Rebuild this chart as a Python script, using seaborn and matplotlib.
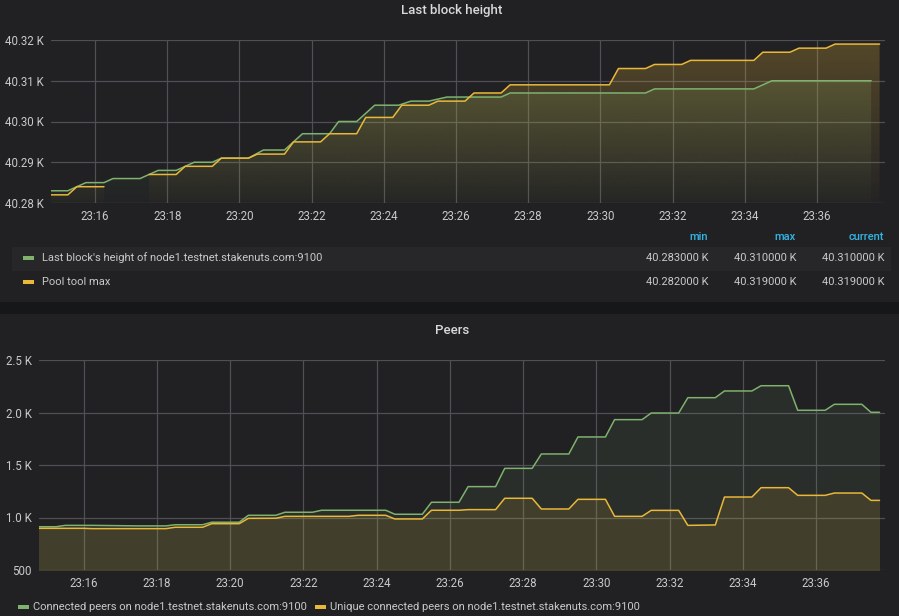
import numpy as np
import pandas as pd
import matplotlib
matplotlib.use("Agg")
import matplotlib.pyplot as plt
import matplotlib.dates as mdates
from matplotlib.patches import Rectangle
from matplotlib.colors import to_rgb
import seaborn as sns

day = "2020-01-10 "

# --- Last block height panel ---
height_times = ["23:14:45", "23:15:15", "23:15:45", "23:16:15", "23:16:30", "23:17:15", "23:17:45",
                "23:18:15", "23:18:45", "23:19:15", "23:19:30", "23:20:15", "23:20:40", "23:21:15",
                "23:21:45", "23:22:30", "23:22:45", "23:23:15", "23:23:45", "23:24:25", "23:24:45",
                "23:25:15", "23:25:45", "23:27:15", "23:27:30", "23:31:15", "23:31:30", "23:34:15",
                "23:34:45", "23:37:30"]
height_values = [40283, 40283, 40285, 40285, 40286, 40286, 40288, 40288, 40290, 40290, 40291, 40291,
                 40293, 40293, 40297, 40297, 40300, 40300, 40304, 40304, 40305, 40305, 40306, 40306,
                 40307, 40307, 40308, 40308, 40310, 40310]

pool_times = ["23:14:45", "23:15:15", "23:15:30", "23:16:15",
              "23:17:30", "23:18:15", "23:18:30", "23:19:15", "23:19:30", "23:20:15", "23:20:30",
              "23:21:15", "23:21:30", "23:22:15", "23:22:30", "23:23:15", "23:23:30", "23:24:15",
              "23:24:30", "23:25:15", "23:25:30", "23:26:15", "23:26:30", "23:27:15", "23:27:30",
              "23:30:15", "23:30:30", "23:31:15", "23:31:30", "23:32:15", "23:32:30", "23:34:15",
              "23:34:30", "23:35:15", "23:35:30", "23:36:15", "23:36:30", "23:37:44"]
pool_values = [40282, 40282, 40284, 40284,
               40287, 40287, 40289, 40289, 40291, 40291, 40292, 40292, 40295, 40295, 40297, 40297,
               40301, 40301, 40304, 40304, 40305, 40305, 40307, 40307, 40309, 40309, 40313, 40313,
               40314, 40314, 40315, 40315, 40317, 40317, 40318, 40318, 40319, 40319]
# pool tool had no data between 23:16:15 and 23:17:30
pool_segment = [0] * 4 + [1] * 34

# --- Peers panel ---
peers_times = ["23:14:45", "23:15:15", "23:15:30", "23:16:15", "23:17:30", "23:18:15", "23:18:30",
               "23:19:15", "23:19:30", "23:20:15", "23:20:30", "23:21:15", "23:21:30", "23:22:15",
               "23:22:30", "23:24:15", "23:24:30", "23:25:15", "23:25:30", "23:26:15", "23:26:30",
               "23:27:15", "23:27:30", "23:28:15", "23:28:30", "23:29:15", "23:29:30", "23:30:15",
               "23:30:30", "23:31:15", "23:31:30", "23:32:15", "23:32:30", "23:33:15", "23:33:30",
               "23:34:15", "23:34:30", "23:35:15", "23:35:30", "23:36:15", "23:36:30", "23:37:15",
               "23:37:30", "23:37:44"]
peers_values = [912, 912, 925, 925, 920, 920, 931, 931, 955, 955, 1021, 1021, 1050, 1050,
                1069, 1069, 1031, 1031, 1145, 1145, 1294, 1294, 1468, 1468, 1605, 1605, 1767, 1767,
                1932, 1932, 1995, 1995, 2141, 2141, 2205, 2205, 2255, 2255, 2021, 2021, 2078, 2078,
                2002, 2002]

unique_times = ["23:14:45", "23:16:00", "23:16:15", "23:18:15", "23:18:30", "23:19:15", "23:19:30",
                "23:20:15", "23:20:30", "23:21:15", "23:21:30", "23:23:15", "23:23:30", "23:24:15",
                "23:24:30", "23:25:15", "23:25:30", "23:26:15", "23:26:30", "23:27:15", "23:27:30",
                "23:28:15", "23:28:30", "23:29:15", "23:29:30", "23:30:15", "23:30:30", "23:31:15",
                "23:31:30", "23:32:15", "23:32:30", "23:33:15", "23:33:30", "23:34:15", "23:34:30",
                "23:35:15", "23:35:30", "23:36:15", "23:36:30", "23:37:15", "23:37:30", "23:37:44"]
unique_values = [897, 897, 894, 894, 907, 907, 941, 941, 992, 993, 1011, 1011, 1021, 1021,
                 986, 986, 1069, 1069, 1075, 1075, 1183, 1183, 1081, 1081, 1173, 1173, 1011, 1011,
                 1068, 1068, 925, 929, 1195, 1195, 1284, 1284, 1211, 1211, 1233, 1233, 1163, 1163]

height_label = "Last block's height of node1.testnet.stakenuts.com:9100"
pool_label = "Pool tool max"
peers_label = "Connected peers on node1.testnet.stakenuts.com:9100"
unique_label = "Unique connected peers on node1.testnet.stakenuts.com:9100"

GREEN = "#7eb26d"
YELLOW = "#eab839"
BG = "#161719"
PANEL = "#212124"
GRID = "#505054"
TEXT = "#c8c9ca"
TITLE = "#d8d9da"
BLUE = "#33b5e5"
FS = 8.0

sns.set_theme(style="dark")
plt.rcParams["font.family"] = ["Roboto", "DejaVu Sans"]

W, H = 899, 616


def px(x, y):
    return x / W, 1 - y / H


def frame(times, values, seg=None):
    df = pd.DataFrame({"time": pd.to_datetime([day + t for t in times]), "value": values})
    df["seg"] = seg if seg is not None else 0
    return df


height_df = frame(height_times, height_values)
pool_df = frame(pool_times, pool_values, pool_segment)
peers_df = frame(peers_times, peers_values)
unique_df = frame(unique_times, unique_values)

xmin = pd.Timestamp(day + "23:14:47")
xmax = pd.Timestamp(day + "23:37:53")

fig = plt.figure(figsize=(W / 100, H / 100), dpi=100, facecolor=BG)
fig.patches.append(Rectangle(px(0, 302), 1, 302 / H, transform=fig.transFigure,
                             facecolor=PANEL, edgecolor="none", zorder=-10))
fig.patches.append(Rectangle((0, 0), 1, (H - 314) / H, transform=fig.transFigure,
                             facecolor=PANEL, edgecolor="none", zorder=-10))

ax1 = fig.add_axes([51 / W, 1 - 203 / H, 834 / W, 163 / H])
ax2 = fig.add_axes([39 / W, 1 - 570 / H, 846 / W, 210 / H])


def style_axis(ax, ylim, yticks, yfmt):
    ax.set_facecolor("none")
    ax.set_xlim(mdates.date2num(xmin), mdates.date2num(xmax))
    ax.set_ylim(*ylim)
    ax.set_yticks(yticks)
    ax.yaxis.set_major_formatter(plt.FuncFormatter(yfmt))
    ax.xaxis.set_major_locator(mdates.MinuteLocator(byminute=range(0, 60, 2)))
    ax.xaxis.set_major_formatter(mdates.DateFormatter("%H:%M"))
    ax.grid(True, color=GRID, linewidth=0.9)
    ax.set_axisbelow(True)
    for s in ax.spines.values():
        s.set_visible(False)
    ax.tick_params(length=0, labelsize=FS + 0.3, colors=TEXT)
    ax.tick_params(axis="y", pad=5)
    ax.tick_params(axis="x", pad=5)
    ax.set_xlabel("")
    ax.set_ylabel("")


def gradient_fill(ax, df, color, top_alpha, bottom_alpha):
    x = mdates.date2num(df["time"])
    poly = ax.fill_between(x, df["value"], 0, facecolor="none", edgecolor="none")
    x0, x1 = ax.get_xlim()
    y0, y1 = ax.get_ylim()
    img = np.zeros((200, 1, 4))
    img[:, 0, :3] = to_rgb(color)
    img[:, 0, 3] = np.linspace(bottom_alpha, top_alpha, 200)
    im = ax.imshow(img, aspect="auto", extent=[x0, x1, y0, y1], origin="lower",
                   interpolation="bilinear", zorder=1)
    im.set_clip_path(poly.get_paths()[0], transform=ax.transData)
    ax.set_xlim(x0, x1)
    ax.set_ylim(y0, y1)


# top panel
style_axis(ax1, (40280, 40320), [40280, 40290, 40300, 40310, 40320],
           lambda v, p: f"{v / 1000:.2f} K")
gradient_fill(ax1, height_df, GREEN, 0.24, 0.02)
for s, d in pool_df.groupby("seg"):
    gradient_fill(ax1, d, YELLOW, 0.26, 0.02)
sns.lineplot(data=height_df, x="time", y="value", color=GREEN, lw=1.1, ax=ax1, zorder=3)
sns.lineplot(data=pool_df, x="time", y="value", units="seg", estimator=None,
             color=YELLOW, lw=1.1, ax=ax1, zorder=3)
style_axis(ax1, (40280, 40320), [40280, 40290, 40300, 40310, 40320],
           lambda v, p: f"{v / 1000:.2f} K")

# bottom panel
style_axis(ax2, (500, 2500), [500, 1000, 1500, 2000, 2500],
           lambda v, p: "500" if v < 1000 else f"{v / 1000:.1f} K")
ax2.fill_between(peers_df["time"], peers_df["value"], 0, color=GREEN, alpha=0.09, lw=0, zorder=1)
ax2.fill_between(unique_df["time"], unique_df["value"], 0, color=YELLOW, alpha=0.13, lw=0, zorder=1)
sns.lineplot(data=peers_df, x="time", y="value", color=GREEN, lw=1.1, ax=ax2, zorder=3)
sns.lineplot(data=unique_df, x="time", y="value", color=YELLOW, lw=1.1, ax=ax2, zorder=3)
style_axis(ax2, (500, 2500), [500, 1000, 1500, 2000, 2500],
           lambda v, p: "500" if v < 1000 else f"{v / 1000:.1f} K")

# titles
fig.text(*px(452, 10.5), "Last block height", ha="center", va="center", color=TITLE,
         fontsize=9.5, fontweight="medium")
fig.text(*px(452, 330), "Peers", ha="center", va="center", color=TITLE,
         fontsize=9.5, fontweight="medium")

# legend table of the top panel
for label, xr in [("min", 708), ("max", 796), ("current", 884)]:
    fig.text(*px(xr, 237), label, ha="right", va="center", color=BLUE, fontsize=FS,
             fontweight="medium")
fig.patches.append(Rectangle(px(12, 271), 879 / W, 24 / H, transform=fig.transFigure,
                             facecolor="#27272a", edgecolor="none", zorder=-5))
for yrow, color, label, vals in [(258, GREEN, height_label, height_values),
                                 (282, YELLOW, pool_label, pool_values)]:
    fig.patches.append(Rectangle(px(23, yrow + 2), 11 / W, 4 / H, transform=fig.transFigure,
                                 facecolor=color, edgecolor="none"))
    fig.text(*px(42, yrow), label, ha="left", va="center", color=TEXT, fontsize=FS)
    stats = [min(vals), max(vals), vals[-1]]
    for v, xr in zip(stats, [708, 796, 884]):
        fig.text(*px(xr, yrow), f"{v / 1000:.6f} K", ha="right", va="center",
                 color=TEXT, fontsize=FS)

# legend of the bottom panel
for xs, color, label in [(18, GREEN, peers_label), (315, YELLOW, unique_label)]:
    fig.patches.append(Rectangle(px(xs, 608.5), 11 / W, 4 / H, transform=fig.transFigure,
                                 facecolor=color, edgecolor="none"))
    fig.text(*px(xs + 15, 606.5), label, ha="left", va="center", color=TEXT, fontsize=FS)

fig.savefig("out.png", dpi=100, facecolor=BG)
